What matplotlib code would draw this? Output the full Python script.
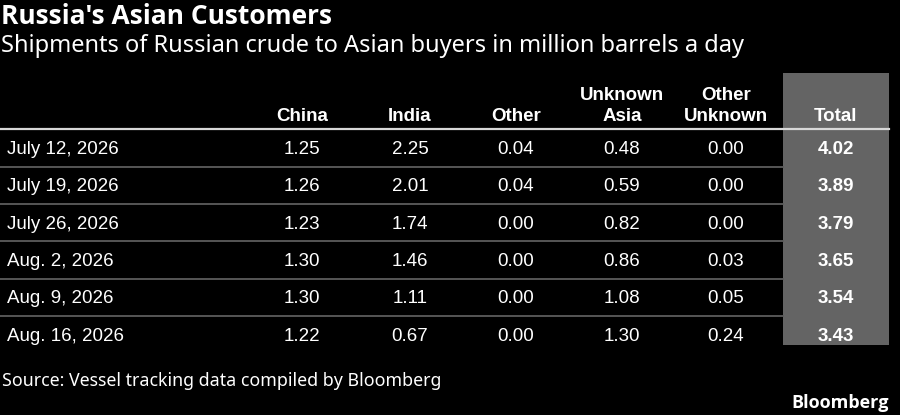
import matplotlib.pyplot as plt
from matplotlib.patches import Rectangle

# table data
dates = ["July 12, 2026", "July 19, 2026", "July 26, 2026",
         "Aug. 2, 2026", "Aug. 9, 2026", "Aug. 16, 2026"]
headers = ["China", "India", "Other", "Unknown\nAsia", "Other\nUnknown", "Total"]
china = [1.25, 1.26, 1.23, 1.30, 1.30, 1.22]
india = [2.25, 2.01, 1.74, 1.46, 1.11, 0.67]
other = [0.04, 0.04, 0.00, 0.00, 0.00, 0.00]
unknown_asia = [0.48, 0.59, 0.82, 0.86, 1.08, 1.30]
other_unknown = [0.00, 0.00, 0.00, 0.03, 0.05, 0.24]
total = [4.02, 3.89, 3.79, 3.65, 3.54, 3.43]

title = "Russia's Asian Customers"
subtitle = "Shipments of Russian crude to Asian buyers in million barrels a day"
source = "Source: Vessel tracking data compiled by Bloomberg"

columns = [china, india, other, unknown_asia, other_unknown, total]
col_x = [302, 410, 516, 622, 726, 836]

W, H = 900, 415
fig = plt.figure(figsize=(W / 100, H / 100), dpi=100, facecolor="black")
ax = fig.add_axes([0, 0, 1, 1])
ax.set_xlim(0, W)
ax.set_ylim(H, 0)
ax.axis("off")
ax.set_facecolor("black")

table_font = "Liberation Sans"
bold_font = ["Open Sans", "DejaVu Sans"]

# title block
ax.text(1, 24, title, color="white", fontsize=19, fontweight="bold",
        family=bold_font, va="baseline", ha="left")
ax.text(1, 52, subtitle, color="white", fontsize=17,
        family="Noto Sans", va="baseline", ha="left")

top = 129.5
row_h = 37.3
n = len(dates)

# grey box behind the total column
ax.add_patch(Rectangle((783, 73), 106, top + n * row_h - 73 - 8,
                       facecolor="#646464", edgecolor="none", zorder=0))

# headers
for x, h in zip(col_x, headers):
    ax.text(x, 121, h, color="white", fontsize=13.5, fontweight="bold",
            family=table_font, ha="center", va="baseline", linespacing=1.3)

ax.plot([0, 889], [top, top], color="#d8d8d8", lw=1.6, zorder=2)

# rows
for i, d in enumerate(dates):
    yc = top + (i + 0.5) * row_h + 1.5
    ax.text(7, yc, d, color="white", fontsize=13.5, family=table_font,
            ha="left", va="center")
    for j, (x, col) in enumerate(zip(col_x, columns)):
        bold = j == len(columns) - 1
        ax.text(x, yc, "%.2f" % col[i], color="white", fontsize=13.5,
                family=table_font, ha="center", va="center",
                fontweight="bold" if bold else "normal")
    if i < n - 1:
        yl = top + (i + 1) * row_h
        ax.plot([0, 783], [yl, yl], color="#5c5c5c", lw=1.3, zorder=1)

ax.text(2, 386, source, color="white", fontsize=12.8,
        family="Noto Sans", va="baseline", ha="left")
ax.text(889, 408, "Bloomberg", color="white", fontsize=13, fontweight="bold",
        family=bold_font, va="baseline", ha="right")

fig.savefig("out.png", dpi=100, facecolor="black")
